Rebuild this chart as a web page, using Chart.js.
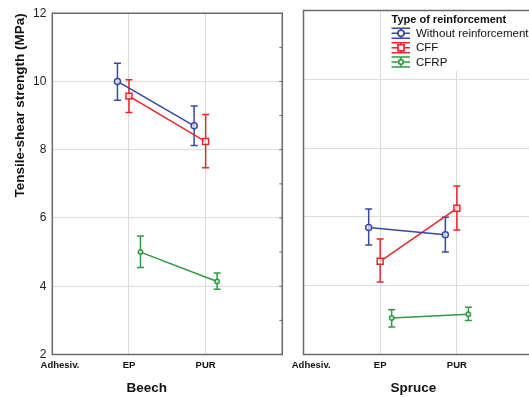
<!DOCTYPE html>
<html>
<head>
<meta charset="utf-8">
<script src="https://cdn.jsdelivr.net/npm/chart.js@4.4.0/dist/chart.umd.min.js"></script>
<style>
  html, body { margin: 0; padding: 0; background: #fff; }
  #wrap { position: relative; width: 529px; height: 397px; overflow: hidden; }
  #beech { position: absolute; left: 0; top: 0; width: 290px; height: 397px; }
  #spruce { position: absolute; left: 290px; top: 0; width: 239px; height: 397px; }
</style>
</head>
<body>
<div id="wrap">
  <canvas id="beech" width="290" height="397"></canvas>
  <canvas id="spruce" width="239" height="397"></canvas>
</div>
<script>
// categories
var adhesives = ["EP", "PUR"];
var groupNames = ["Without reinforcement", "CFF", "CFRP"];
var yTickValues = [2, 4, 6, 8, 10, 12];

// means and error bar limits, one row per reinforcement type, [EP, PUR]
var beechMean = [[10.0, 8.70], [9.57, 8.24], [5.00, 4.14]];
var beechLow = [[9.45, 8.12], [9.09, 7.47], [4.55, 3.91]];
var beechHigh = [[10.53, 9.28], [10.05, 9.03], [5.47, 4.39]];

var spruceMean = [[5.69, 5.48], [4.71, 6.25], [3.06, 3.17]];
var spruceLow = [[5.18, 4.98], [4.11, 5.62], [2.80, 2.99]];
var spruceHigh = [[6.23, 5.99], [5.36, 6.90], [3.30, 3.37]];

var colors = ["#3a46a4", "#e8262c", "#2e9a44"];
var markers = ["circle", "rect", "circle"];
var markerSize = [3, 4.2, 2.2];
var shift = [-0.15, 0, 0.15];
var FONT = "'Liberation Sans', Arial, sans-serif";

function errorBarPlugin(means, lows, highs) {
  return {
    id: "errbars",
    beforeDatasetsDraw: function (chart) {
      var ctx = chart.ctx;
      var xs = chart.scales.x, ys = chart.scales.y;
      ctx.save();
      ctx.lineWidth = 1.5;
      for (var i = 0; i < means.length; i++) {
        ctx.strokeStyle = colors[i];
        for (var j = 0; j < adhesives.length; j++) {
          var px = xs.getPixelForValue(j + 1 + shift[i]);
          var top = ys.getPixelForValue(highs[i][j]);
          var bot = ys.getPixelForValue(lows[i][j]);
          ctx.beginPath();
          ctx.moveTo(px, top); ctx.lineTo(px, bot);
          ctx.moveTo(px - 3.5, top); ctx.lineTo(px + 3.5, top);
          ctx.moveTo(px - 3.5, bot); ctx.lineTo(px + 3.5, bot);
          ctx.stroke();
        }
      }
      ctx.restore();
    }
  };
}

function framePlugin(title, titleX, minorTicks, drawRight) {
  return {
    id: "frame",
    afterDraw: function (chart) {
      var ctx = chart.ctx, a = chart.chartArea;
      ctx.save();
      ctx.strokeStyle = "#6a6a6a";
      ctx.lineWidth = 1.5;
      ctx.beginPath();
      if (drawRight) {
        ctx.rect(a.left, a.top, a.right - a.left, a.bottom - a.top);
      } else {
        ctx.moveTo(a.right + 2, a.top);
        ctx.lineTo(a.left, a.top);
        ctx.lineTo(a.left, a.bottom);
        ctx.lineTo(a.right + 2, a.bottom);
      }
      ctx.stroke();
      if (minorTicks) {
        ctx.lineWidth = 1;
        ctx.beginPath();
        for (var v = 3; v <= 11; v++) {
          var py = chart.scales.y.getPixelForValue(v);
          ctx.moveTo(a.right - 3, py); ctx.lineTo(a.right, py);
        }
        ctx.stroke();
      }
      ctx.fillStyle = "#111";
      ctx.font = "bold 13.5px " + FONT;
      ctx.textAlign = "center";
      ctx.textBaseline = "middle";
      ctx.fillText(title, titleX, 388);
      ctx.restore();
    }
  };
}

var legendPlugin = {
  id: "legendbox",
  beforeDatasetsDraw: function (chart) {
    var ctx = chart.ctx;
    ctx.save();
    ctx.fillStyle = "#fff";
    ctx.fillRect(98, 11, 141, 60);
    ctx.fillStyle = "#111";
    ctx.font = "bold 11px " + FONT;
    ctx.textBaseline = "middle";
    ctx.textAlign = "left";
    ctx.fillText("Type of reinforcement", 101.5, 20);
    ctx.font = "11.5px " + FONT;
    var rows = [33.3, 47.7, 62];
    for (var i = 0; i < groupNames.length; i++) {
      var y = rows[i];
      ctx.strokeStyle = colors[i];
      ctx.lineWidth = 1.5;
      ctx.beginPath();
      ctx.moveTo(101.5, y - 5); ctx.lineTo(120, y - 5);
      ctx.moveTo(101.5, y); ctx.lineTo(120, y);
      ctx.moveTo(101.5, y + 5); ctx.lineTo(120, y + 5);
      ctx.moveTo(111, y - 5); ctx.lineTo(111, y + 5);
      ctx.stroke();
      Chart.helpers.drawPoint(ctx, {
        pointStyle: markers[i], radius: markerSize[i], rotation: 0, borderWidth: 1.5
      }, 111, y);
      ctx.fillStyle = "#fff";
      ctx.fill();
      ctx.stroke();
      ctx.fillStyle = "#111";
      ctx.fillText(groupNames[i], 126, y + 0.5);
    }
    ctx.restore();
  }
};

function makePanel(id, means, lows, highs, cfg) {
  var datasets = [];
  for (var i = 0; i < means.length; i++) {
    datasets.push({
      label: groupNames[i],
      data: adhesives.map(function (a, j) {
        return { x: j + 1 + shift[i], y: means[i][j] };
      }),
      showLine: true,
      borderColor: colors[i],
      borderWidth: 1.5,
      pointStyle: markers[i],
      pointRadius: markerSize[i],
      pointBorderWidth: 1.5,
      pointBorderColor: colors[i],
      pointBackgroundColor: "rgba(255,255,255,0.7)"
    });
  }
  var plugins = [errorBarPlugin(means, lows, highs),
    framePlugin(cfg.title, cfg.titleX, cfg.minorTicks, cfg.drawRight)];
  if (cfg.legend) plugins.push(legendPlugin);

  return new Chart(document.getElementById(id), {
    type: "scatter",
    data: { datasets: datasets },
    plugins: plugins,
    options: {
      responsive: false,
      animation: false,
      layout: {
        autoPadding: false,
        padding: { left: 0, top: 10.5, right: cfg.padRight, bottom: 0 }
      },
      plugins: { legend: { display: false }, tooltip: { enabled: false } },
      scales: {
        x: {
          type: "linear",
          min: 0,
          max: cfg.xMax,
          afterBuildTicks: function (s) {
            s.ticks = [{ value: 0.1 }, { value: 1 }, { value: 2 }];
          },
          afterFit: function (s) {
            s.height = 42.5;
            s.paddingLeft = 0;
            s.paddingRight = 0;
          },
          ticks: {
            autoSkip: false,
            maxRotation: 0,
            padding: 5,
            color: "#111",
            font: { family: FONT, size: 9.5, weight: "bold" },
            callback: function (v) {
              return v < 0.5 ? "Adhesiv." : adhesives[Math.round(v) - 1];
            }
          },
          grid: {
            drawTicks: false,
            color: function (c) {
              return c.tick && c.tick.value < 0.5 ? "rgba(0,0,0,0)" : "#dcdcdc";
            }
          },
          border: { display: false }
        },
        y: {
          min: 2,
          max: 12,
          afterBuildTicks: function (s) {
            s.ticks = yTickValues.map(function (v) { return { value: v }; });
          },
          afterFit: function (s) { s.width = cfg.yWidth; },
          ticks: {
            display: cfg.yLabels,
            padding: 6,
            color: "#222",
            font: { family: FONT, size: 12 }
          },
          grid: { drawTicks: false, color: "#dcdcdc" },
          border: { display: false },
          title: {
            display: cfg.yLabels,
            text: "Tensile-shear strength (MPa)",
            align: "end",
            color: "#111",
            padding: { top: 12.5, bottom: 0 },
            font: { family: FONT, size: 13.5, weight: "bold" }
          }
        }
      }
    }
  });
}

makePanel("beech", beechMean, beechLow, beechHigh, {
  title: "Beech", titleX: 146.8, yLabels: true, yWidth: 52.3,
  padRight: 7.7, xMax: 3, minorTicks: true, legend: false, drawRight: true
});
makePanel("spruce", spruceMean, spruceLow, spruceHigh, {
  title: "Spruce", titleX: 123.3, yLabels: false, yWidth: 13.5,
  padRight: 0, xMax: 2.941, minorTicks: false, legend: true, drawRight: false
});
</script>
</body>
</html>
